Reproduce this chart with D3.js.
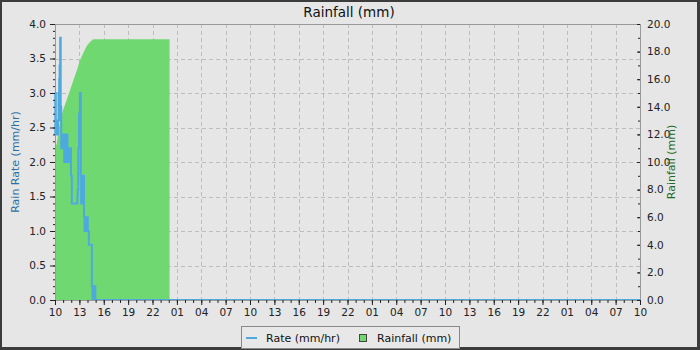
<!DOCTYPE html>
<html>
<head>
<meta charset="utf-8">
<script src="https://cdn.jsdelivr.net/npm/d3@7"></script>
<style>
  body { margin: 0; background: #3c3c3c; }
  text { font-family: "DejaVu Sans", sans-serif; }
</style>
</head>
<body>
<div id="rain_chart"></div>
<script>
// rain rate (mm/hr), minutes after 10:00 on the first day
var rateMinutes = [0, 2, 4, 6, 8, 10, 12, 14, 16, 18, 20, 22, 26, 29, 31, 34, 38, 42, 46, 48,
    50, 53, 56, 60, 64, 68, 72, 76, 80, 84, 88, 92, 96, 100, 104, 108, 112, 118, 124, 165,
    168, 172, 178, 184, 190, 193, 196, 199, 202, 206, 210, 214, 218, 222, 226, 230, 234, 238, 242, 250,
    272, 276, 279, 283, 286, 290, 294, 298, 4320];
var rateValues = [3.0, 2.4, 3.0, 2.6, 2.4, 2.6, 2.4, 2.6, 2.4, 2.6, 2.4, 2.6, 3.0, 2.6, 3.2, 3.4, 3.8, 2.8, 2.2, 2.4,
    2.2, 2.4, 2.2, 2.4, 2.2, 2.0, 2.4, 2.0, 2.2, 2.0, 2.4, 2.0, 2.2, 2.0, 2.2, 2.0, 2.2, 1.8, 1.4, 1.5,
    1.6, 2.2, 2.7, 3.0, 1.8, 1.4, 1.8, 1.4, 1.7, 1.4, 1.8, 1.2, 1.0, 1.2, 1.0, 1.2, 1.0, 1.2, 1.0, 0.8,
    0.2, 0.0, 0.2, 0.0, 0.2, 0.0, 0.2, 0.0, 0.0];

// cumulative rainfall (mm)
var rainMinutes = [0, 12, 22, 37, 61, 86, 111, 135, 160, 185, 209, 234, 258, 283, 846];
var rainValues = [11.0, 11.3, 12.0, 13.0, 13.8, 14.5, 15.2, 15.9, 16.6, 17.4, 17.9, 18.4, 18.7, 18.9, 18.9];

var rateTicks = [0, 0.5, 1, 1.5, 2, 2.5, 3, 3.5, 4];
var rainTicks = [0, 2, 4, 6, 8, 10, 12, 14, 16, 18, 20];
var hourTicks = [10, 13, 16, 19, 22, 1, 4, 7, 10, 13, 16, 19, 22, 1, 4, 7, 10, 13, 16, 19, 22, 1, 4, 7, 10];

var startTime = new Date(2024, 0, 1, 10, 0);
var totalHours = 72;

function minToDate(m) { return new Date(startTime.getTime() + m * 60000); }

var margin = {top: 24, right: 60, bottom: 50, left: 55}
    , width = 700 - margin.left - margin.right
    , height = 350 - margin.top - margin.bottom;

var xScale = d3.scaleTime()
    .domain([startTime, minToDate(totalHours * 60)])
    .range([0, width]);

var yRate = d3.scaleLinear().domain([0, 4]).range([height, 0]);
var yRain = d3.scaleLinear().domain([0, 20]).range([height, 0]);

var rateData = rateMinutes.map(function(m, i) { return {t: minToDate(m), v: rateValues[i]}; });
var rainData = rainMinutes.map(function(m, i) { return {t: minToDate(m), v: rainValues[i]}; });

var majorTimes = hourTicks.map(function(h, i) { return minToDate(i * 180); });
var minorTimes = d3.range(totalHours + 1).map(function(h) { return minToDate(h * 60); });

var root = d3.select("#rain_chart").append("svg")
    .attr("width", 700)
    .attr("height", 350);

root.append("rect")
    .attr("width", 700).attr("height", 350)
    .attr("fill", "#3c3c3c");
root.append("rect")
    .attr("x", 2).attr("y", 2)
    .attr("width", 695).attr("height", 345)
    .attr("fill", "#e6e6e6");

var svg = root.append("g")
    .attr("transform", "translate(" + margin.left + "," + margin.top + ")");

// grid
svg.append("g")
    .attr("class", "grid")
    .selectAll("line.h")
    .data(rateTicks.slice(1, -1))
    .enter().append("line")
    .attr("x1", 0).attr("x2", width)
    .attr("y1", function(d) { return Math.round(yRate(d)) + 0.5; })
    .attr("y2", function(d) { return Math.round(yRate(d)) + 0.5; })
    .attr("stroke", "#bdbdbd")
    .style("stroke-dasharray", ("4,3"));

svg.append("g")
    .attr("class", "grid")
    .selectAll("line.v")
    .data(majorTimes.slice(1, -1))
    .enter().append("line")
    .attr("y1", 0).attr("y2", height)
    .attr("x1", function(d) { return Math.round(xScale(d)) + 0.5; })
    .attr("x2", function(d) { return Math.round(xScale(d)) + 0.5; })
    .attr("stroke", "#bdbdbd")
    .style("stroke-dasharray", ("4,3"));

// rainfall area
var area = d3.area()
    .x(function(d) { return xScale(d.t); })
    .y0(height)
    .y1(function(d) { return yRain(d.v); });

svg.append("path")
    .datum(rainData)
    .attr("fill", "#70d870")
    .attr("d", area);

// rate line
var line = d3.line()
    .x(function(d) { return xScale(d.t); })
    .y(function(d) { return yRate(d.v); })
    .curve(d3.curveStepAfter);

svg.append("path")
    .datum(rateData)
    .attr("fill", "none")
    .attr("stroke", "#4ea9de")
    .attr("stroke-width", 2)
    .attr("d", line);

// frame
svg.append("rect")
    .attr("x", 0.5).attr("y", 0.5)
    .attr("width", width).attr("height", height)
    .attr("fill", "none")
    .attr("stroke", "#999");

function styleAxis(g) {
    g.select(".domain").remove();
    g.selectAll(".tick line").attr("stroke", "#222");
    g.selectAll(".tick text").attr("fill", "#222").attr("font-family", "DejaVu Sans");
}

// x axis
svg.append("g")
    .attr("class", "x axis minor")
    .attr("transform", "translate(0," + height + ")")
    .call(d3.axisBottom(xScale).tickValues(minorTimes).tickSize(3).tickFormat(""))
    .call(styleAxis);

svg.append("g")
    .attr("class", "x axis")
    .attr("transform", "translate(0," + height + ")")
    .call(d3.axisBottom(xScale).tickValues(majorTimes).tickSize(5).tickPadding(4)
        .tickFormat(function(d, i) { return d3.format("02d")(hourTicks[i]); }))
    .attr("font-size", "10.5px")
    .call(styleAxis);

// left axis
svg.append("g")
    .attr("class", "y axis minor")
    .call(d3.axisLeft(yRate).tickValues(d3.range(0, 41).map(function(i) { return i / 10; })).tickSize(2).tickFormat(""))
    .call(styleAxis);

svg.append("g")
    .attr("class", "y axis")
    .call(d3.axisLeft(yRate).tickValues(rateTicks).tickSize(5).tickPadding(4).tickFormat(d3.format(".1f")))
    .attr("font-size", "10.5px")
    .call(styleAxis);

// right axis (ticks point inward)
svg.append("g")
    .attr("class", "y axis minor")
    .attr("transform", "translate(" + width + ",0)")
    .call(d3.axisRight(yRain).tickValues(d3.range(0, 21)).tickSize(-2).tickFormat(""))
    .call(styleAxis);

svg.append("g")
    .attr("class", "y axis")
    .attr("transform", "translate(" + width + ",0)")
    .call(d3.axisRight(yRain).tickValues(rainTicks).tickSize(-3).tickPadding(7).tickFormat(d3.format(".1f")))
    .attr("font-size", "10.5px")
    .call(styleAxis);

// titles
root.append("text")
    .attr("x", 349)
    .attr("y", 17)
    .attr("text-anchor", "middle")
    .attr("font-size", "13.5px")
    .attr("fill", "#111")
    .text("Rainfall (mm)");

root.append("text")
    .attr("transform", "translate(19," + (margin.top + height / 2) + ") rotate(-90)")
    .attr("text-anchor", "middle")
    .attr("font-size", "11px")
    .attr("fill", "#2a6fa5")
    .text("Rain Rate (mm/hr)");

root.append("text")
    .attr("transform", "translate(675," + (margin.top + height / 2) + ") rotate(-90)")
    .attr("text-anchor", "middle")
    .attr("font-size", "11px")
    .attr("fill", "#1d6b1d")
    .text("Rainfall (mm)");

// legend
var legend = root.append("g").attr("class", "legend");
legend.append("rect")
    .attr("x", 241.5).attr("y", 326.5)
    .attr("width", 218).attr("height", 22)
    .attr("fill", "#e8e8e8")
    .attr("stroke", "#888");
legend.append("line")
    .attr("x1", 246).attr("x2", 257)
    .attr("y1", 338).attr("y2", 338)
    .attr("stroke", "#4ea9de")
    .attr("stroke-width", 2);
legend.append("text")
    .attr("x", 266).attr("y", 342)
    .attr("font-size", "11px")
    .attr("fill", "#111")
    .text("Rate (mm/hr)");
legend.append("rect")
    .attr("x", 359.5).attr("y", 334.5)
    .attr("width", 7).attr("height", 7)
    .attr("fill", "#70d870")
    .attr("stroke", "#444");
legend.append("text")
    .attr("x", 377).attr("y", 342)
    .attr("font-size", "11px")
    .attr("fill", "#111")
    .text("Rainfall (mm)");
</script>
</body>
</html>
